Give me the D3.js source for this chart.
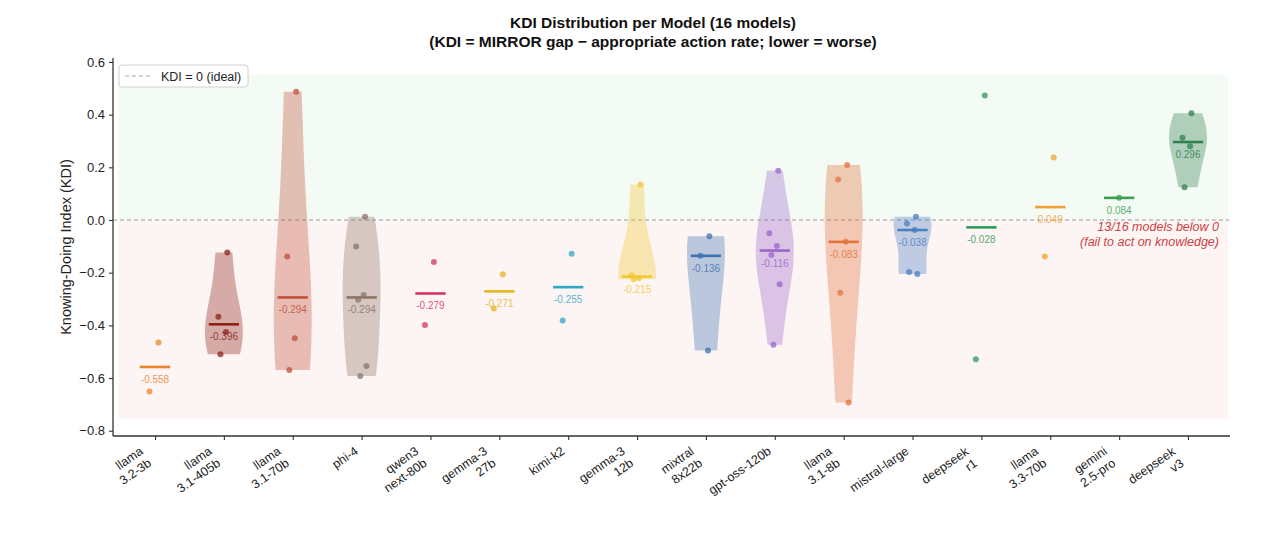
<!DOCTYPE html>
<html>
<head>
<meta charset="utf-8">
<script src="https://cdn.jsdelivr.net/npm/d3@7"></script>
<style>
  html, body { margin: 0; padding: 0; background: #ffffff; }
  svg { display: block; font-family: "Liberation Sans", Arial, Helvetica, sans-serif; }
</style>
</head>
<body>
<svg id="chart" width="1280" height="544"></svg>
<script>
// ---------------- data ----------------
const models = [
  "llama\n3.2-3b", "llama\n3.1-405b", "llama\n3.1-70b", "phi-4",
  "qwen3\nnext-80b", "gemma-3\n27b", "kimi-k2", "gemma-3\n12b",
  "mixtral\n8x22b", "gpt-oss-120b", "llama\n3.1-8b", "mistral-large",
  "deepseek\nr1", "llama\n3.3-70b", "gemini\n2.5-pro", "deepseek\nv3"
];
const kdiValues = [
  [-0.465, -0.651],
  [-0.123, -0.367, -0.425, -0.510],
  [0.487, -0.139, -0.449, -0.569],
  [0.012, -0.101, -0.285, -0.303, -0.554, -0.592],
  [-0.159, -0.399],
  [-0.206, -0.336],
  [-0.128, -0.382],
  [0.135, -0.210, -0.220, -0.225],
  [-0.062, -0.136, -0.495],
  [0.187, -0.050, -0.099, -0.133, -0.244, -0.474],
  [0.209, 0.154, -0.083, -0.276, -0.693],
  [0.012, -0.013, -0.038, -0.197, -0.205],
  [0.473, -0.529],
  [0.237, -0.139],
  [0.084],
  [0.405, 0.312, 0.280, 0.124]
];
const modelColors = [
  "#e8842c", "#8b2318", "#c0503a", "#8c7468",
  "#d6336c", "#e6b422", "#2ea8c4", "#f2c830",
  "#3f72b0", "#9a66cc", "#e0743a", "#4a7fc0",
  "#2e9a5a", "#f0a030", "#38a050", "#2f7f4f"
];
const yTickValues = [-0.8, -0.6, -0.4, -0.2, 0.0, 0.2, 0.4, 0.6];
const titleLines = [
  "KDI Distribution per Model (16 models)",
  "(KDI = MIRROR gap \u2212 appropriate action rate; lower = worse)"
];
const yLabel = "Knowing-Doing Index (KDI)";
const legendLabel = "KDI = 0 (ideal)";
const noteLines = ["13/16 models below 0", "(fail to act on knowledge)"];
const goodBand = [0, 0.55];
const badBand = [-0.755, 0];

// style constants (deterministic jitter, in category units)
const JIT = [0.05, -0.08, 0.03, -0.05, 0.07, -0.02];
const VIOLIN_HALF = 0.275;
const MED_HALF = 0.22;

// ---------------- scales ----------------
const svg = d3.select("#chart");
const x = d3.scaleLinear().domain([-0.61, 15.61]).range([113, 1230]);
const y = d3.scaleLinear().domain([-0.82, 0.615]).range([436, 58]);

// background bands
svg.append("rect")
  .attr("x", x(-0.53)).attr("width", x(15.58) - x(-0.53))
  .attr("y", y(goodBand[1])).attr("height", y(goodBand[0]) - y(goodBand[1]))
  .attr("fill", "#2ca02c").attr("fill-opacity", 0.05);
svg.append("rect")
  .attr("x", x(-0.53)).attr("width", x(15.58) - x(-0.53))
  .attr("y", y(badBand[1])).attr("height", y(badBand[0]) - y(badBand[1]))
  .attr("fill", "#d62728").attr("fill-opacity", 0.05);

// zero line
svg.append("line")
  .attr("x1", x(-0.61)).attr("x2", x(15.6))
  .attr("y1", y(0)).attr("y2", y(0))
  .attr("stroke", "#9a9a9a").attr("stroke-width", 1.1)
  .attr("stroke-dasharray", "4,3");

// KDE (gaussian, Scott's rule)
function kde(vals, grid) {
  const n = vals.length;
  const sd = d3.deviation(vals);
  const bw = sd * Math.pow(n, -0.2);
  return grid.map(g => ({ v: g, d: d3.sum(vals, v => Math.exp(-0.5 * ((g - v) / bw) ** 2)) }));
}

const gV = svg.append("g");
kdiValues.forEach((vals, i) => {
  const col = modelColors[i];
  if (vals.length >= 3) {
    const lo = d3.min(vals), hi = d3.max(vals);
    const grid = d3.range(100).map(k => lo + k * (hi - lo) / 99);
    const dens = kde(vals, grid);
    const dmax = d3.max(dens, d => d.d);
    const area = d3.area()
      .y(d => y(d.v))
      .x0(d => x(i - VIOLIN_HALF * d.d / dmax))
      .x1(d => x(i + VIOLIN_HALF * d.d / dmax));
    gV.append("path").attr("d", area(dens))
      .attr("fill", col).attr("fill-opacity", 0.35).attr("stroke", "none");
  }
});

const gM = svg.append("g");
kdiValues.forEach((vals, i) => {
  const col = modelColors[i];
  const med = d3.median(vals);
  gM.append("line")
    .attr("x1", x(i - MED_HALF)).attr("x2", x(i + MED_HALF))
    .attr("y1", y(med)).attr("y2", y(med))
    .attr("stroke", col).attr("stroke-width", 2.6);
  vals.forEach((v, k) => {
    gM.append("circle")
      .attr("cx", x(i + (vals.length > 1 ? JIT[k % JIT.length] : 0)))
      .attr("cy", y(v)).attr("r", 3)
      .attr("fill", col).attr("fill-opacity", 0.75);
  });
  gM.append("text")
    .attr("x", x(i)).attr("y", y(med) + 16)
    .attr("text-anchor", "middle")
    .attr("font-size", "10px")
    .attr("fill", col).attr("fill-opacity", 0.85)
    .text(med.toFixed(3));
});

// axes
const yAxis = svg.append("g").attr("transform", `translate(${x(-0.61)},0)`)
  .call(d3.axisLeft(y).tickValues(yTickValues).tickSize(4).tickPadding(4).tickFormat(d3.format(".1f")));
yAxis.select(".domain").attr("d", `M0,${y(0.615)}V${y(-0.82)}`).attr("stroke", "#333").attr("stroke-width", 1.3);
yAxis.selectAll(".tick line").attr("stroke", "#333").attr("stroke-width", 1.1);
yAxis.selectAll(".tick text").attr("font-size", "13px").attr("fill", "#222")
  .attr("font-family", "'Liberation Sans', Arial, sans-serif");

const xAxis = svg.append("g").attr("transform", `translate(0,${y(-0.82)})`)
  .call(d3.axisBottom(x).tickValues(d3.range(models.length)).tickSize(4).tickFormat(""));
xAxis.select(".domain").attr("d", `M${x(-0.61)},0H${x(15.61)}`).attr("stroke", "#333").attr("stroke-width", 1.3);
xAxis.selectAll(".tick line").attr("stroke", "#333").attr("stroke-width", 1.1);

// rotated x tick labels (right aligned, top-right corner anchored at tick)
models.forEach((m, i) => {
  const outer = svg.append("g").attr("transform", `translate(${x(i) - 1},${y(-0.82) + 8})`);
  const inner = outer.append("g").attr("transform", "rotate(-35)");
  const lines = m.split("\n");
  lines.forEach((ln, k) => {
    inner.append("text")
      .attr("x", 0).attr("y", k * 14.5)
      .attr("text-anchor", "end")
      .attr("font-size", "12.5px").attr("fill", "#222")
      .text(ln);
  });
  const bb = outer.node().getBBox();
  inner.attr("transform", `translate(${-(bb.x + bb.width)},${-bb.y}) rotate(-35)`);
});

// y label
svg.append("text")
  .attr("transform", `translate(67,${(y(0.615) + y(-0.82)) / 2}) rotate(-90)`)
  .attr("text-anchor", "middle").attr("dominant-baseline", "middle")
  .attr("font-size", "14.5px").attr("fill", "#222")
  .text(yLabel);

// title
titleLines.forEach((t, k) => {
  svg.append("text")
    .attr("x", 653).attr("y", 28 + k * 18.5)
    .attr("text-anchor", "middle")
    .attr("font-size", "15.5px").attr("font-weight", "bold").attr("fill", "#111")
    .text(t);
});

// legend
const lg = svg.append("g");
lg.append("rect").attr("x", 119).attr("y", 65).attr("width", 129).attr("height", 22)
  .attr("rx", 3).attr("fill", "#ffffff").attr("fill-opacity", 0.85)
  .attr("stroke", "#d0d0d0").attr("stroke-width", 1);
lg.append("line").attr("x1", 125).attr("x2", 152).attr("y1", 76).attr("y2", 76)
  .attr("stroke", "#a8a8a8").attr("stroke-width", 1.1).attr("stroke-dasharray", "4,3");
lg.append("text").attr("x", 161).attr("y", 80.5)
  .attr("font-size", "12.5px").attr("fill", "#222").text(legendLabel);

// annotation
noteLines.forEach((t, k) => {
  svg.append("text")
    .attr("x", x(15.45)).attr("y", y(0) + 11 + k * 15)
    .attr("text-anchor", "end")
    .attr("font-size", "12.5px").attr("font-style", "italic")
    .attr("fill", "#c62828").attr("fill-opacity", 0.9)
    .text(t);
});
</script>
</body>
</html>
